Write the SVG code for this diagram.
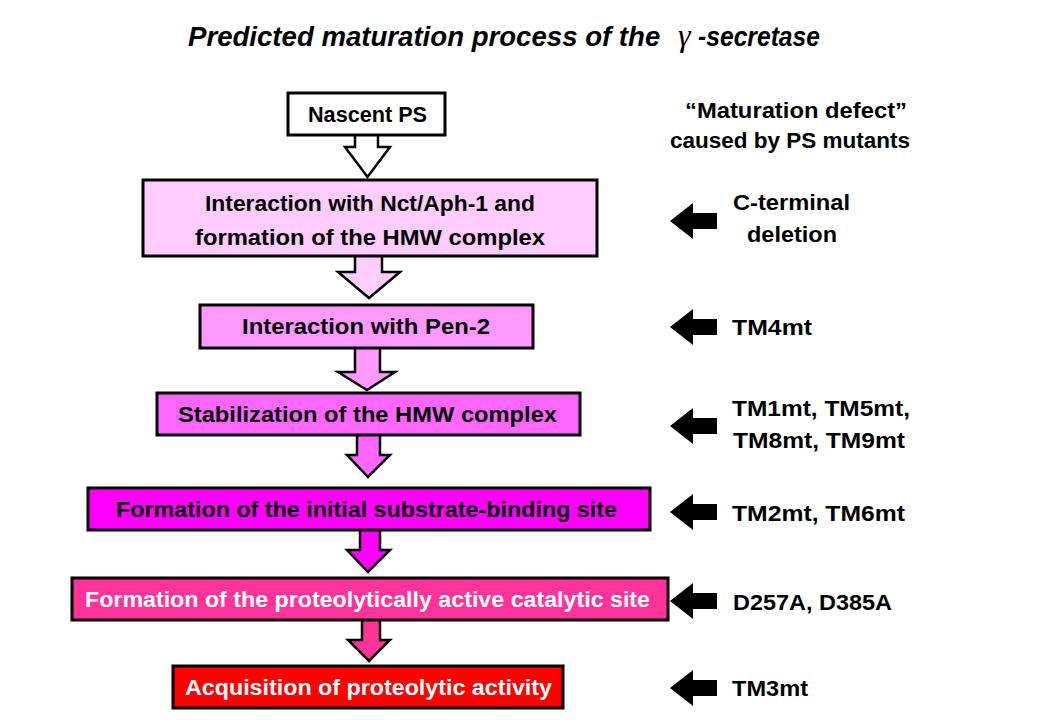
<svg xmlns="http://www.w3.org/2000/svg" width="1040" height="720" viewBox="0 0 1040 720">
<style>
.t{font-family:"Liberation Sans",Arial,sans-serif;font-weight:bold;font-size:22px;fill:#000}
.w{fill:#fff}
.box{stroke:#000;stroke-width:3}
.dn{stroke:#000;stroke-width:2.5;stroke-linejoin:miter}
.blk{fill:#000}
</style>
<rect width="1040" height="720" fill="#fff"/>
<g id="title">
<text y="46" font-family="Liberation Sans,Arial,sans-serif" font-weight="bold" font-style="italic" font-size="27.6"><tspan x="188">Predicted maturation process of the</tspan><tspan x="678" font-family="Liberation Serif,Times New Roman,serif" font-weight="normal" font-size="32">γ</tspan><tspan x="698" textLength="122" lengthAdjust="spacingAndGlyphs">-secretase</tspan></text>
</g>
<g id="connectors">
<path class="dn" fill="#fff" d="M355,135 V147 H345 L367.5,177 L390,147 H378 V135"/>
<path class="dn" fill="#FFCCFF" d="M355,256 V272 H338 L369,298 L400,272 H382 V256"/>
<path class="dn" fill="#FF99FF" d="M355,348 V372 H338 L367,390 L395,372 H380 V348"/>
<path class="dn" fill="#FF66FF" d="M357,435 V455 H347 L368,477 L390,455 H380 V435"/>
<path class="dn" fill="#FF00FF" d="M360,530 V550 H347 L368,572 L390,550 H380 V530"/>
<path class="dn" fill="#FF3399" d="M362,620 V640 H348 L369,661 L390,640 H380 V620"/>
<polygon class="blk" points="670,221 693,203 693,213 717,213 717,229 693,229 693,239"/>
<polygon class="blk" points="670,327 693,309 693,319 717,319 717,335 693,335 693,345"/>
<polygon class="blk" points="670,426 693,408 693,418 717,418 717,434 693,434 693,444"/>
<polygon class="blk" points="670,512 693,494 693,504 717,504 717,520 693,520 693,530"/>
<polygon class="blk" points="670,601 693,583 693,593 717,593 717,609 693,609 693,619"/>
<polygon class="blk" points="670,688 693,670 693,680 717,680 717,696 693,696 693,706"/>
</g>
<g id="n1"><rect class="box" x="288" y="93" width="157" height="42" fill="#fff"/><text class="t" x="308" y="122" textLength="119" lengthAdjust="spacingAndGlyphs">Nascent PS</text></g>
<g id="n2"><rect class="box" x="143" y="180" width="454" height="76" fill="#FFCCFF"/><text class="t" x="205" y="211" textLength="330" lengthAdjust="spacingAndGlyphs">Interaction with Nct/Aph-1 and</text><text class="t" x="195" y="245" textLength="350" lengthAdjust="spacingAndGlyphs">formation of the HMW complex</text></g>
<g id="n3"><rect class="box" x="200" y="305" width="333" height="43" fill="#FF99FF"/><text class="t" x="242" y="334" textLength="248" lengthAdjust="spacingAndGlyphs">Interaction with Pen-2</text></g>
<g id="n4"><rect class="box" x="157" y="393" width="423" height="42" fill="#FF66FF"/><text class="t" x="178" y="422" textLength="379" lengthAdjust="spacingAndGlyphs">Stabilization of the HMW complex</text></g>
<g id="n5"><rect class="box" x="88" y="488" width="562" height="42" fill="#FF00FF"/><text class="t" x="116" y="517" textLength="501" lengthAdjust="spacingAndGlyphs">Formation of the initial substrate-binding site</text></g>
<g id="n6"><rect class="box" x="72" y="578" width="596" height="42" fill="#FF3399"/><text class="t w" x="85" y="607" textLength="565" lengthAdjust="spacingAndGlyphs">Formation of the proteolytically active catalytic site</text></g>
<g id="n7"><rect class="box" x="173" y="666" width="390" height="42" fill="#FF0000"/><text class="t w" x="185" y="695" textLength="367" lengthAdjust="spacingAndGlyphs">Acquisition of proteolytic activity</text></g>
<g id="header"><text class="t" x="685" y="118" textLength="222" lengthAdjust="spacingAndGlyphs">“Maturation defect”</text><text class="t" x="670" y="148" textLength="240" lengthAdjust="spacingAndGlyphs">caused by PS mutants</text></g>
<g id="m1"><text class="t" x="733" y="210" textLength="117" lengthAdjust="spacingAndGlyphs">C-terminal</text><text class="t" x="747" y="242" textLength="90" lengthAdjust="spacingAndGlyphs">deletion</text></g>
<g id="m2"><text class="t" x="732" y="335" textLength="80" lengthAdjust="spacingAndGlyphs">TM4mt</text></g>
<g id="m3"><text class="t" x="732" y="416" textLength="178" lengthAdjust="spacingAndGlyphs">TM1mt, TM5mt,</text><text class="t" x="733" y="448" textLength="172" lengthAdjust="spacingAndGlyphs">TM8mt, TM9mt</text></g>
<g id="m4"><text class="t" x="732" y="521" textLength="173" lengthAdjust="spacingAndGlyphs">TM2mt, TM6mt</text></g>
<g id="m5"><text class="t" x="733" y="610" textLength="159" lengthAdjust="spacingAndGlyphs">D257A, D385A</text></g>
<g id="m6"><text class="t" x="732" y="696" textLength="76" lengthAdjust="spacingAndGlyphs">TM3mt</text></g>
</svg>
